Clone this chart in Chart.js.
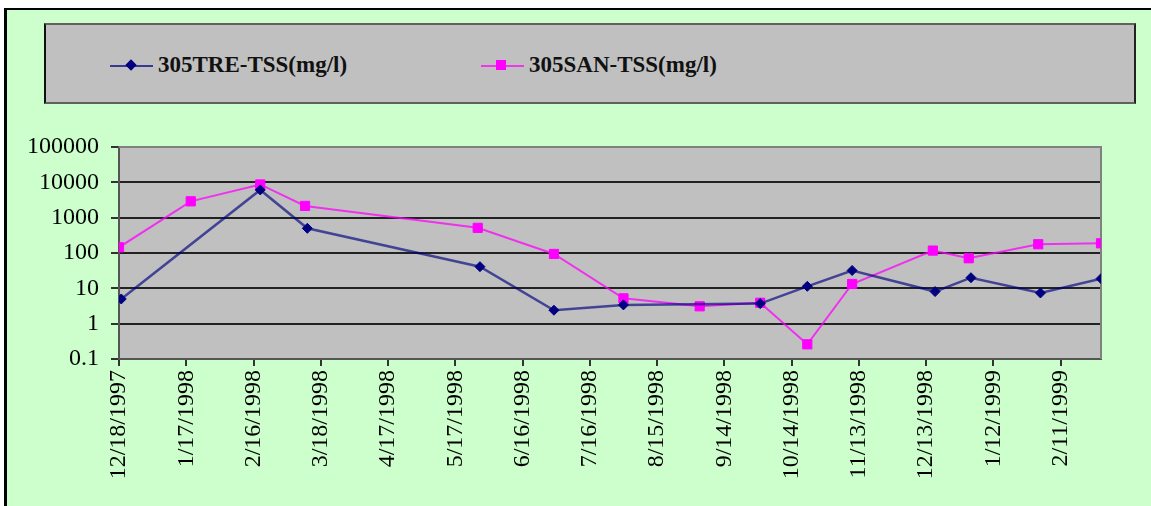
<!DOCTYPE html>
<html>
<head>
<meta charset="utf-8">
<script src="https://cdn.jsdelivr.net/npm/chart.js@4.4.1/dist/chart.umd.min.js"></script>
<style>
  html, body { margin: 0; padding: 0; background: #fff; overflow: hidden; }
  #wrap { position: relative; width: 1151px; height: 506px; overflow: hidden; }
  #frame { position: absolute; left: 4px; top: 8px; width: 1144px; height: 496px;
           background: #ccffcc; border-left: 3px solid #000; border-top: 2px solid #000; }
  #legend { position: absolute; left: 44px; top: 23px; width: 1088px; height: 77px;
            background: #c0c0c0; border: 2px solid #606060; border-left-color: #111; border-right-color: #222; }
  .item { position: absolute; top: 27px; font: bold 23px "Liberation Serif", serif; color: #111; white-space: nowrap; }
  .item .ln { position: absolute; top: 13px; height: 2px; width: 43px; }
  .item .mk { position: absolute; }
  .item span.tx { position: absolute; white-space: nowrap; top: 0; }
  canvas { position: absolute; left: 0; top: 0; }
</style>
</head>
<body>
<div id="wrap">
  <div id="frame"></div>
  <div id="legend"></div>
  <canvas id="chart" width="1151" height="506"></canvas>
</div>
<script>
// 데이터
const startDate = '12/18/1997';
const tickLabels = ['12/18/1997', '1/17/1998', '2/16/1998', '3/18/1998', '4/17/1998', '5/17/1998', '6/16/1998',
    '7/16/1998', '8/15/1998', '9/14/1998', '10/14/1998', '11/13/1998', '12/13/1998', '1/12/1999', '2/11/1999'];
const yTicks = [0.1, 1, 10, 100, 1000, 10000, 100000];

const treName = '305TRE-TSS(mg/l)';
const treDates = ['12/19/1997', '2/19/1998', '3/12/1998', '5/28/1998', '6/30/1998', '7/31/1998', '9/30/1998',
    '10/21/1998', '11/10/1998', '12/17/1998', '1/2/1999', '2/2/1999', '3/1/1999'];
const treValues = [5, 6100, 500, 41, 2.4, 3.4, 3.7, 11.4, 32, 8.1, 20, 7.4, 18.8];

const sanName = '305SAN-TSS(mg/l)';
const sanDates = ['12/18/1997', '1/19/1998', '2/19/1998', '3/11/1998', '5/27/1998', '6/30/1998', '7/31/1998',
    '9/3/1998', '9/30/1998', '10/21/1998', '11/10/1998', '12/16/1998', '1/1/1999', '2/1/1999', '3/1/1999'];
const sanValues = [145, 2900, 8700, 2150, 515, 94, 5.2, 3.1, 3.9, 0.26, 13.3, 117, 71, 177, 188];

// 날짜 -> 시작일 기준 일수
const toDay = (s) => {
    const [m, d, y] = s.split('/').map(Number);
    const [m0, d0, y0] = startDate.split('/').map(Number);
    return (Date.UTC(y, m - 1, d) - Date.UTC(y0, m0 - 1, d0)) / 864e5;
};
const tickDays = tickLabels.map(toDay);
const lastDay = Math.max(...treDates.map(toDay), ...sanDates.map(toDay));

const treColor = '#000080';
const sanColor = '#ff00ff';
const serif = "'Liberation Serif', 'Times New Roman', serif";

// 범례 (HTML)
const legend = document.getElementById('legend');
const addItem = (left, name, color, marker) => {
    const el = document.createElement('div');
    el.className = 'item';
    el.style.left = left + 'px';
    el.innerHTML = `<div class="ln" style="left:0;background:${color};opacity:.7"></div>` +
        `<div class="mk" style="${marker}"></div>` +
        `<span class="tx" style="left:48px">${name}</span>`;
    legend.appendChild(el);
};
addItem(64, treName, treColor, `left:17px;top:9px;width:8px;height:8px;background:${treColor};transform:rotate(45deg)`);
addItem(435, sanName, sanColor, `left:15px;top:8px;width:10px;height:10px;background:${sanColor}`);

const plotBg = {
    id: 'plotBg',
    beforeDraw(chart) {
        const {ctx, chartArea: a} = chart;
        ctx.save();
        ctx.fillStyle = '#c0c0c0';
        ctx.fillRect(a.left, a.top, a.right - a.left, a.bottom - a.top);
        ctx.restore();
    },
    beforeDatasetsDraw(chart) {
        const {ctx, chartArea: a} = chart;
        ctx.save();
        ctx.strokeStyle = '#808080';
        ctx.lineWidth = 2;
        ctx.beginPath();
        ctx.moveTo(a.left, a.top);
        ctx.lineTo(a.right, a.top);
        ctx.lineTo(a.right, a.bottom);
        ctx.stroke();
        ctx.restore();
    }
};

const ctx = document.getElementById('chart').getContext('2d');
const myChart = new Chart(ctx, {
    type: 'line',
    data: {
        datasets: [{
            label: treName,
            data: treDates.map((d, i) => ({x: toDay(d), y: treValues[i]})),
            borderColor: 'rgba(0, 0, 128, 0.65)',
            backgroundColor: treColor,
            pointBorderColor: treColor,
            borderWidth: 2.5,
            pointStyle: 'rectRot',
            pointRadius: 5,
            pointBorderWidth: 1,
            tension: 0
        }, {
            label: sanName,
            data: sanDates.map((d, i) => ({x: toDay(d), y: sanValues[i]})),
            borderColor: 'rgba(255, 0, 255, 0.75)',
            backgroundColor: sanColor,
            pointBorderColor: sanColor,
            borderWidth: 2,
            pointStyle: 'rect',
            pointRadius: 6.5,
            pointBorderWidth: 1,
            tension: 0
        }]
    },
    options: {
        responsive: false,
        animation: false,
        events: [],
        layout: { padding: { top: 147, right: 50, left: 0, bottom: 0 } },
        plugins: { legend: { display: false }, tooltip: { enabled: false } },
        scales: {
            x: {
                type: 'linear',
                min: 0,
                max: lastDay,
                afterBuildTicks: (scale) => { scale.ticks = tickDays.map(v => ({value: v})); },
                afterFit: (scale) => { scale.height = 147; },
                grid: { drawOnChartArea: false, drawTicks: true, tickLength: 7, tickColor: '#333', lineWidth: 2 },
                border: { color: '#555', width: 2 },
                ticks: {
                    autoSkip: false,
                    minRotation: 90,
                    maxRotation: 90,
                    padding: 4,
                    color: '#000',
                    font: { family: serif, size: 24 },
                    callback: function(value, index, ticks) {
                        return tickLabels[index];
                    }
                }
            },
            y: {
                type: 'logarithmic',
                min: 0.1,
                max: 100000,
                afterBuildTicks: (scale) => { scale.ticks = yTicks.map(v => ({value: v})); },
                afterFit: (scale) => { scale.width = 119; },
                grid: { color: '#222', lineWidth: 2, tickLength: 8, tickColor: '#333' },
                border: { color: '#555', width: 2 },
                ticks: {
                    padding: 12,
                    color: '#000',
                    font: { family: serif, size: 24 },
                    callback: function(value, index, ticks) {
                        return `${yTicks[index]}`;
                    }
                }
            }
        }
    },
    plugins: [plotBg]
});
</script>
</body>
</html>
